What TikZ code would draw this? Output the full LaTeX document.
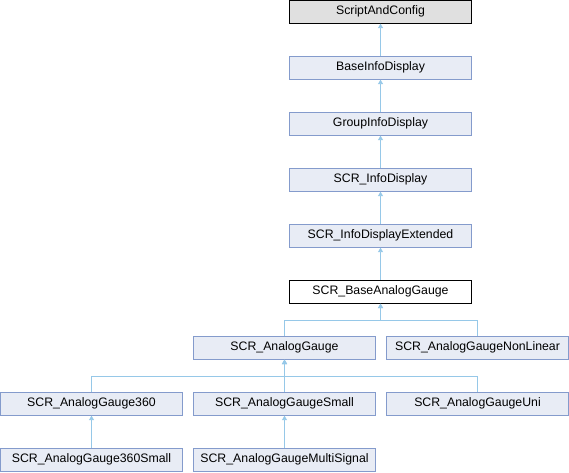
\documentclass[tikz,border=0pt]{standalone}
\usepackage{fontspec}
\setmainfont{Liberation Sans}
\usepackage{tikz}
\usetikzlibrary{arrows.meta}
\definecolor{boxfill}{RGB}{232,236,245}
\definecolor{boxline}{RGB}{132,155,204}
\definecolor{edgeline}{RGB}{150,200,232}
\tikzstyle{cls}=[draw=boxline, fill=boxfill, line width=0.9pt, minimum width=182pt, minimum height=23pt, inner sep=0pt, font=\fontsize{12.3}{14}\selectfont]
\tikzstyle{root}=[cls, draw=black, fill=black!12]
\tikzstyle{cur}=[cls, draw=black, fill=white]
\tikzstyle{inh}=[draw=edgeline, line width=0.9pt, -{Triangle[length=4.5pt,width=5pt]}]

\begin{document}
\begin{tikzpicture}[x=1pt, y=-1pt]
    \useasboundingbox (0,0) rectangle (569,472);

    %chain
    \node [root] (sac) at (380.5,11.7) {ScriptAndConfig};
    \node [cls] (bid) at (380.5,67.7) {BaseInfoDisplay};
    \node [cls] (gid) at (380.5,123.7) {GroupInfoDisplay};
    \node [cls] (id) at (380.5,179.7) {SCR\_InfoDisplay};
    \node [cls] (ide) at (380.5,235.7) {SCR\_InfoDisplayExtended};
    \node [cur] (bag) at (380.5,291.7) {SCR\_BaseAnalogGauge};

    %gauges
    \node [cls] (ag) at (284.5,347.7) {SCR\_AnalogGauge};
    \node [cls] (agnl) at (477.5,347.7) {SCR\_AnalogGaugeNonLinear};
    \node [cls] (ag360) at (91.5,403.7) {SCR\_AnalogGauge360};
    \node [cls] (ags) at (284.5,403.7) {SCR\_AnalogGaugeSmall};
    \node [cls] (agu) at (477.5,403.7) {SCR\_AnalogGaugeUni};
    \node [cls] (ag360s) at (91.5,459.7) {SCR\_AnalogGauge360Small};
    \node [cls] (agms) at (284.5,459.7) {SCR\_AnalogGaugeMultiSignal};

    %edges
    \foreach \c/\p in {bid/sac,gid/bid,id/gid,ide/id,bag/ide,ag360s/ag360,agms/ags} {
    \draw [inh] (\c.north) -- (\p.south);
    }

    \coordinate (jbag) at (380.5,320);
    \coordinate (jag) at (284.5,376.7);
    \foreach \c in {ag,agnl} {
    \draw [inh] (\c.north) |- (jbag) -- (bag.south);
    }
    \foreach \c in {ag360,ags,agu} {
    \draw [inh] (\c.north) |- (jag) -- (ag.south);
    }

\end{tikzpicture}
\end{document}
